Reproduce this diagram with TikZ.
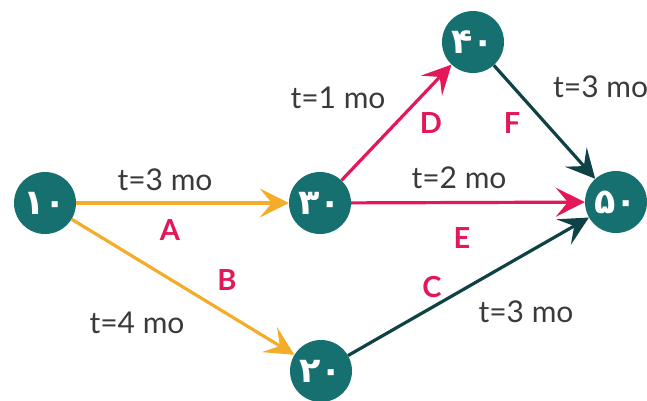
\documentclass[tikz,border=0pt]{standalone}
\usepackage{fontspec}
\setmainfont{Lato}
\newfontfamily\digfont{DejaVu Sans}
\usetikzlibrary{arrows.meta}
\definecolor{nodeteal}{RGB}{22,112,112}
\definecolor{edgeorange}{RGB}{245,172,40}
\definecolor{edgepink}{RGB}{226,24,88}
\definecolor{edgedark}{RGB}{14,66,68}
\definecolor{labgray}{RGB}{58,58,58}
\tikzset{
  ev/.style={circle, fill=nodeteal, minimum size=62pt, inner sep=0pt, text=white, font=\digfont\bfseries\fontsize{35}{37}\selectfont},
  conn/.style={line width=3.2pt, -{Stealth[length=29pt,width=29pt,inset=12pt]}},
  tlab/.style={anchor=base, text=labgray, inner sep=0pt, font=\fontsize{30}{32}\selectfont},
  letlab/.style={anchor=base, text=edgepink, inner sep=0pt, font=\bfseries\fontsize{29}{30}\selectfont},
}
\begin{document}
\begin{tikzpicture}[x=1pt,y=-1pt]
\useasboundingbox (0,0) rectangle (647,400);
\node[ev] (n10) at (45,203) {۱۰};
\node[ev] (n30) at (320,203) {۳۰};
\node[ev] (n40) at (473,42) {۴۰};
\node[ev] (n50) at (616,202) {۵۰};
\node[ev] (n20) at (321,371) {۲۰};
\draw[conn, edgeorange] (n10) -- (n30);
\draw[conn, edgeorange] (n10) -- (n20);
\draw[conn, edgepink] (n30) -- (n40);
\draw[conn, edgepink] (n30) -- (n50);
\draw[conn, edgedark] (n40) -- (n50);
\draw[conn, edgedark] (n20) -- (n50);
\node[tlab] (lA) at (165,190) {t=3 mo};
\node[letlab] (cA) at (170,240) {A};
\node[letlab] (cB) at (227,290) {B};
\node[tlab] (lB) at (137,333) {t=4 mo};
\node[tlab] (lD) at (338,108) {t=1 mo};
\node[letlab] (cD) at (431,133) {D};
\node[letlab] (cF) at (512,133) {F};
\node[tlab, anchor=base west] (lF) at (553,97) {t=3 mo};
\node[tlab] (lE) at (459,188) {t=2 mo};
\node[letlab] (cE) at (462,248) {E};
\node[letlab] (cC) at (432,297) {C};
\node[tlab] (lC) at (526,322) {t=3 mo};
\end{tikzpicture}
\end{document}
